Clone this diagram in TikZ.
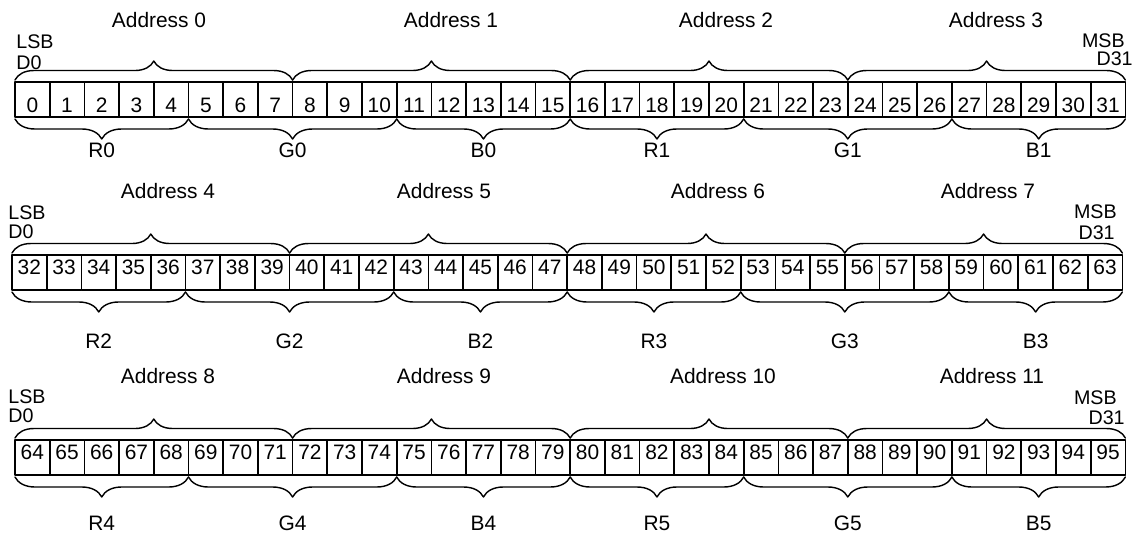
\documentclass[tikz,border=0pt]{standalone}
\usepackage{fontspec}
\setmainfont{Liberation Sans}
\usetikzlibrary{calc,decorations.pathreplacing}
\tikzset{
    bitcell/.style={draw,line width=1pt,minimum width=6.94mm,minimum height=7mm,
      inner sep=0pt,outer sep=0pt},
    bitnum/.style={inner sep=0pt},
    topbrace/.style={decorate,decoration={brace,amplitude=3.8mm,raise=0.4mm},
      line width=0.8pt},
    botbrace/.style={decorate,decoration={brace,amplitude=4mm,raise=0.4mm},
      line width=0.8pt},
    sidelbl/.style={inner sep=0pt,font=\fontsize{11.2}{12}\selectfont,
      text height=7.8pt,text depth=0pt},
    grouplbl/.style={inner sep=0pt}
}

\begin{document}
\begin{tikzpicture}[x=0.02cm,y=-0.02cm,font=\fontsize{11.9}{14}\selectfont,
    line cap=round,line join=round]
  \useasboundingbox (0,0) rectangle (1137,539);

  % bit cells, 32 per word
  \foreach \r/\rx/\ry/\dy in {0/15/82/6,1/12/255/-5,2/15/440/-5}{
    \foreach \k in {0,...,31}{
      \pgfmathtruncatemacro\i{32*\r+\k}
      \node[bitcell] (c\i) at (\rx+\k*34.7+17.35,\ry+17.5) {};
      \node[bitnum] (n\i) at ($(c\i)+(0,\dy)$) {\i};
    }
  }

  % one byte address per 8 bits
  \foreach \r/\ay/\xa/\xb/\xc/\xd in {0/20/159/451/726/996,
      1/191/168/444/718/988,2/376/168/444/723/992}{
    \foreach \q/\ax in {0/\xa,1/\xb,2/\xc,3/\xd}{
      \pgfmathtruncatemacro\ia{32*\r+8*\q}
      \pgfmathtruncatemacro\ib{\ia+7}
      \pgfmathtruncatemacro\n{4*\r+\q}
      \draw[topbrace] (c\ia.north west) -- (c\ib.north east);
      \node[grouplbl] (addr\n) at (\ax,\ay) {Address \n};
    }
  }

  % RGB 5-6-5 fields
  \foreach \r/\ly in {0/33,1/51,2/48}{
    \foreach \s/\e/\col/\h in {0/4/R/0,5/10/G/0,11/15/B/0,16/20/R/1,21/26/G/1,27/31/B/1}{
      \pgfmathtruncatemacro\ia{32*\r+\s}
      \pgfmathtruncatemacro\ib{32*\r+\e}
      \pgfmathtruncatemacro\n{2*\r+\h}
      \draw[botbrace] (c\ib.south east) -- (c\ia.south west);
      \node[grouplbl] (\col\n) at ($(c\ia.south west)!0.5!(c\ib.south east)+(0,\ly)$) {\col\n};
    }
  }

  % bit order marks
  \node[sidelbl,anchor=west] (lsb0) at (16,42) {LSB};
  \node[sidelbl,anchor=west] (dz0) at (16,63) {D0};
  \node[sidelbl,anchor=east] (msb0) at (1125,40.5) {MSB};
  \node[sidelbl,anchor=east] (dt0) at (1133,59) {D31};
  \node[sidelbl,anchor=west] (lsb1) at (8,212.5) {LSB};
  \node[sidelbl,anchor=west] (dz1) at (8,232) {D0};
  \node[sidelbl,anchor=east] (msb1) at (1117,211.5) {MSB};
  \node[sidelbl,anchor=east] (dt1) at (1115,233) {D31};
  \node[sidelbl,anchor=west] (lsb2) at (8,397) {LSB};
  \node[sidelbl,anchor=west] (dz2) at (8,416) {D0};
  \node[sidelbl,anchor=east] (msb2) at (1117,397.5) {MSB};
  \node[sidelbl,anchor=east] (dt2) at (1125,417.5) {D31};
\end{tikzpicture}
\end{document}
